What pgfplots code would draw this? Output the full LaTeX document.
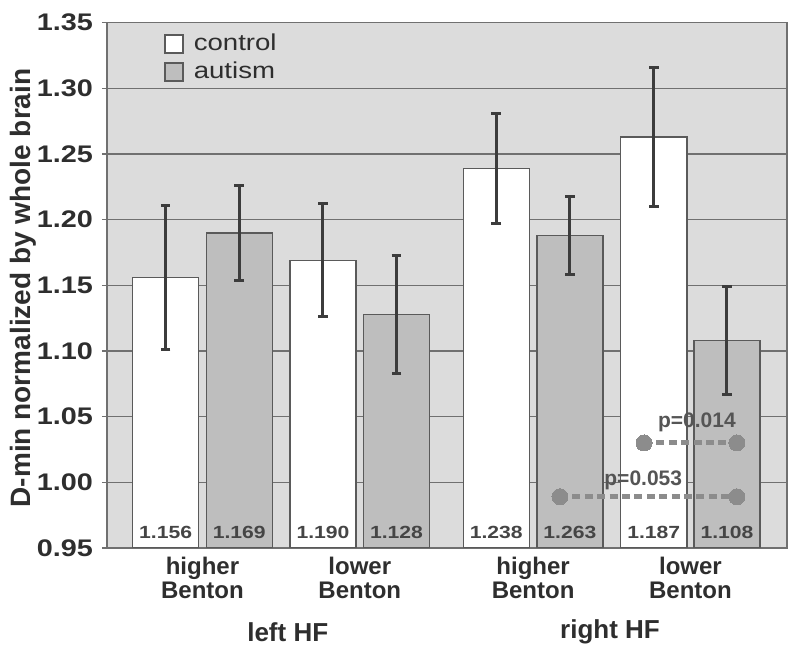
\documentclass[border=0pt]{standalone}
\usepackage{fontspec}
\setmainfont{Liberation Sans}
\newfontfamily\widefont{Liberation Sans}[FakeStretch=1.2]
\usepackage{pgfplots}
\pgfplotsset{compat=1.18}
\definecolor{bgc}{HTML}{DCDCDC}
\definecolor{gridc}{HTML}{707070}
\definecolor{autc}{HTML}{BEBEBE}
\definecolor{edgec}{HTML}{5A5A5A}
\definecolor{errc}{HTML}{3C3C3C}
\definecolor{tickc}{HTML}{2E2E2E}
\definecolor{valc}{HTML}{454545}
\definecolor{dashc}{HTML}{8C8C8C}
\definecolor{pc}{HTML}{555555}
\begin{document}
\begin{tikzpicture}
\begin{axis}[
  scale only axis,
  width=340pt, height=262.65pt,
  xmin=-0.604, xmax=3.70,
  ymin=0.95, ymax=1.35,
  ytick={0.95,1.00,1.05,1.10,1.15,1.20,1.25,1.30,1.35},
  xtick=\empty,
  ytick pos=left,
  tick align=outside,
  major tick length=2.5pt,
  tick style={gridc, line width=0.75pt},
  ymajorgrids,
  grid style={gridc, line width=0.75pt},
  axis line style={gridc, line width=0.75pt},
  axis background/.style={fill=bgc},
  clip mode=individual,
  yticklabel style={font=\widefont\bfseries\fontsize{12}{12}\selectfont, text=tickc, xshift=-1pt},
  /pgf/number format/.cd, fixed, fixed zerofill, precision=2, assume math mode=true,
  /pgfplots/.cd,
  ylabel={D-min normalized by whole brain},
  every axis y label/.style={at={(axis description cs:-0.1235,0.495)}, rotate=90, anchor=center,
    font=\bfseries\fontsize{14}{14}\selectfont, text=tickc},
  legend style={draw=none, fill=none, at={(axis description cs:0.075,0.992)}, anchor=north west,
    font=\widefont\fontsize{11.5}{12}\selectfont, text=tickc, row sep=1pt,
    nodes={inner sep=1.5pt},
    /tikz/every odd column/.append style={column sep=3.5pt}},
  legend image code/.code={\draw[#1] (0pt,-4.5pt) rectangle (9pt,4.5pt);},
  legend cell align=left,
  error bars/error bar style={errc, line width=1.5pt},
  error bars/error mark options={errc, line width=1.5pt, mark size=2.4pt, rotate=90},
]
\addplot[ybar, bar width=0.418, bar shift=0pt, fill=white, draw=edgec, line width=0.7pt,
  error bars/.cd, y dir=both, y explicit]
  coordinates {(-0.233,1.156) +- (0,0.055) (0.763,1.169) +- (0,0.043)
               (1.860,1.239) +- (0,0.042) (2.857,1.263) +- (0,0.053)};
\addlegendentry{control}
\addplot[ybar, bar width=0.418, bar shift=0pt, fill=autc, draw=edgec, line width=0.7pt,
  error bars/.cd, y dir=both, y explicit]
  coordinates {(0.233,1.190) +- (0,0.036) (1.228,1.128) +- (0,0.045)
               (2.326,1.188) +- (0,0.030) (3.320,1.108) +- (0,0.041)};
\addlegendentry{autism}
\addplot[forget plot, dashc, line width=2.5pt, dash pattern=on 4pt off 2.2pt,
  mark=*, mark size=4pt, mark options={solid, fill=dashc, draw=dashc, line width=0pt}]
  coordinates {(2.795,1.030) (3.383,1.030)};
\addplot[forget plot, dashc, line width=2.5pt, dash pattern=on 4pt off 2.2pt,
  mark=*, mark size=4pt, mark options={solid, fill=dashc, draw=dashc, line width=0pt}]
  coordinates {(2.263,0.989) (3.383,0.989)};
% p-values
\node[font=\bfseries\fontsize{10.5}{11}\selectfont, text=pc] at (axis cs:3.13,1.0457) {p=0.014};
\node[font=\bfseries\fontsize{10.5}{11}\selectfont, text=pc] at (axis cs:2.79,1.0015) {p=0.053};
% value labels inside bars
\begin{scope}[every node/.style={font=\widefont\bfseries\fontsize{8.8}{9}\selectfont, text=valc}]
\node at (axis cs:-0.233,0.9622) {1.156};
\node at (axis cs:0.233,0.9622) {1.169};
\node at (axis cs:0.763,0.9622) {1.190};
\node at (axis cs:1.228,0.9622) {1.128};
\node at (axis cs:1.860,0.9622) {1.238};
\node at (axis cs:2.326,0.9622) {1.263};
\node at (axis cs:2.857,0.9622) {1.187};
\node at (axis cs:3.320,0.9622) {1.108};
\end{scope}
% category labels
\begin{scope}[every node/.style={font=\bfseries\fontsize{12}{12}\selectfont, text=tickc, align=center}]
\node[yshift=-15pt] at (axis cs:0,0.95) {higher\\Benton};
\node[yshift=-15pt] at (axis cs:0.996,0.95) {lower\\Benton};
\node[yshift=-15pt] at (axis cs:2.093,0.95) {higher\\Benton};
\node[yshift=-15pt] at (axis cs:3.089,0.95) {lower\\Benton};
\node[yshift=-42pt, font=\bfseries\fontsize{13}{13}\selectfont] at (axis cs:0.54,0.95) {left HF};
\node[yshift=-42pt, font=\bfseries\fontsize{13}{13}\selectfont] at (axis cs:2.58,0.95) {right HF};
\end{scope}
\end{axis}
\pgfresetboundingbox
\path[use as bounding box] ([shift={(-53.5pt,-55.5pt)}]current axis.south west) rectangle ([shift={(6.5pt,11.35pt)}]current axis.north east);
\end{tikzpicture}
\end{document}
